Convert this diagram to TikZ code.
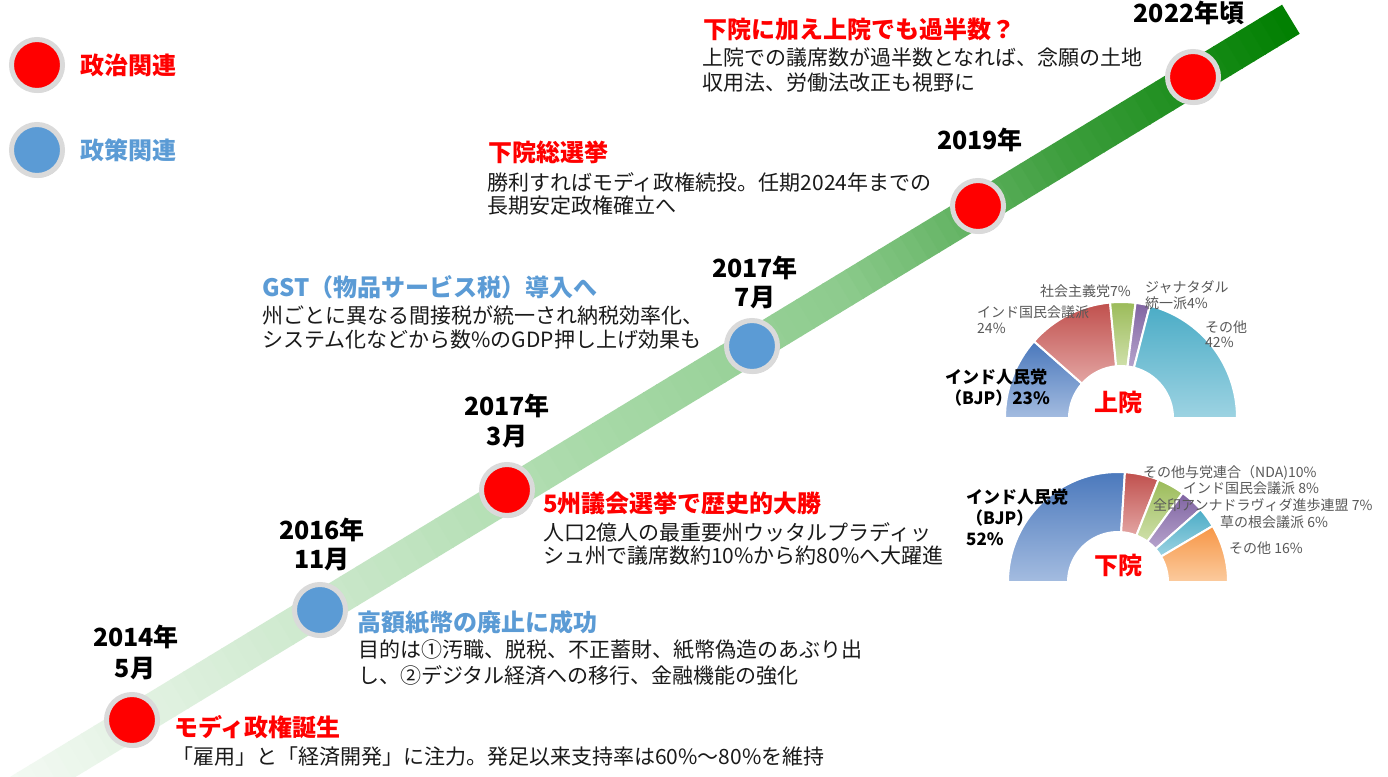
\documentclass[tikz,border=0pt]{standalone}
\usepackage{fontspec}
\setmainfont{Noto Sans CJK JP}
\usetikzlibrary{calc,shadows}
\definecolor{polred}{HTML}{FF0000}
\definecolor{polblue}{HTML}{5B9BD5}
\definecolor{ringgray}{HTML}{DADADA}
\definecolor{bodyc}{HTML}{1A1A1A}
\definecolor{lblc}{HTML}{595959}
\definecolor{bA}{HTML}{F4FAF4}
\definecolor{bB}{HTML}{D2EBD2}
\definecolor{bC}{HTML}{A9DAA9}
\definecolor{bD}{HTML}{8DCB8D}
\definecolor{bE}{HTML}{3F9F3F}
\definecolor{bF}{HTML}{007F00}
\definecolor{bluT}{HTML}{4A78BC}
\definecolor{bluB}{HTML}{A4BCE0}
\definecolor{redT}{HTML}{C0504D}
\definecolor{redB}{HTML}{E3A5A3}
\definecolor{grnT}{HTML}{9BBB59}
\definecolor{grnB}{HTML}{CFE0AA}
\definecolor{purT}{HTML}{8064A2}
\definecolor{purB}{HTML}{B6A3CC}
\definecolor{tealT}{HTML}{4BACC6}
\definecolor{tealB}{HTML}{9DD3E2}
\definecolor{orgT}{HTML}{F79646}
\definecolor{orgB}{HTML}{FBCB9E}
\newcommand\donutseg[6]{%
  \shadedraw[draw=white, line width=2pt, #6] ($(#1)+(#2:#4)$) arc[start angle=#2, end angle=#3, radius=#4]
    -- ($(#1)+(#3:#5)$) arc[start angle=#3, end angle=#2, radius=#5] -- cycle;}
\begin{document}
\begin{tikzpicture}[x=1pt,y=-1pt,
  evt/.style={circle, inner sep=0pt, minimum size=51pt, draw=ringgray, line width=5pt,
    circular drop shadow={shadow scale=1.04, shadow xshift=1pt, shadow yshift=-1.5pt}},
  evtred/.style={evt, fill=polred},
  evtblue/.style={evt, fill=polblue},
  datelbl/.style={font=\bfseries\fontsize{25}{30}\selectfont, text=black, anchor=center, inner sep=0pt},
  headred/.style={font=\bfseries\fontsize{24}{28}\selectfont, text=polred, anchor=west, inner sep=0pt},
  headblue/.style={font=\bfseries\fontsize{24}{28}\selectfont, text=polblue, anchor=west, inner sep=0pt},
  bodytxt/.style={font=\fontsize{21}{26}\selectfont, text=bodyc, anchor=west, inner sep=0pt},
  smalllbl/.style={font=\fontsize{14}{16}\selectfont, text=lblc, anchor=west, inner sep=0pt},
  bjplbl/.style={font=\bfseries\fontsize{17}{20}\selectfont, text=black, anchor=west, inner sep=0pt},
  housel/.style={font=\bfseries\fontsize{24}{28}\selectfont, text=polred, anchor=center, inner sep=0pt}
]
\useasboundingbox (0,0) rectangle (1388,776);
\fill[white] (0,0) rectangle (1388,776);
% ---- band ----
\begin{scope}
\clip (0,0) rectangle (1388,776);
\coordinate (S) at (13,795);
\foreach \ta/\tb/\ca/\cb in {0/0.2/bA/bB, 0.2/0.45/bB/bC, 0.45/0.65/bC/bD, 0.65/0.82/bD/bE, 0.82/1/bE/bF}{
  \foreach \j in {0,...,19}{
    \pgfmathsetmacro\sa{1495*(\ta+(\tb-\ta)*\j/20)}
    \pgfmathsetmacro\sb{min(1495*(\ta+(\tb-\ta)*(\j+1)/20)+1,1495)}
    \pgfmathsetmacro\pc{100*(\j+0.5)/20}
    \draw[line width=34pt, draw=\cb!\pc!\ca] ($(S)+(-31.26:\sa)$) -- ($(S)+(-31.26:\sb)$);
  }
}
\end{scope}
% ---- legend ----
\node[evtred] (legR) at (37,65) {};
\node[evtblue] (legB) at (37,150) {};
\node[font=\bfseries\fontsize{24}{28}\selectfont, text=polred, anchor=west, inner sep=0pt] (legRt) at (80,65) {政治関連};
\node[font=\bfseries\fontsize{24}{28}\selectfont, text=polblue, anchor=west, inner sep=0pt] (legBt) at (80,150) {政策関連};
% ---- event circles ----
\node[evtred] (e14) at (132,720) {};
\node[evtblue] (e16) at (320,610) {};
\node[evtred] (e173) at (507,490) {};
\node[evtblue] (e177) at (752,346) {};
\node[evtred] (e19) at (978,206) {};
\node[evtred] (e22) at (1193,77) {};
% ---- date labels ----
\node[datelbl] (d14a) at (136,637) {2014年};
\node[datelbl] (d14b) at (135,669) {5月};
\node[datelbl] (d16a) at (322,530) {2016年};
\node[datelbl] (d16b) at (322,560) {11月};
\node[datelbl] (d173a) at (507,406) {2017年};
\node[datelbl] (d173b) at (507,437) {3月};
\node[datelbl] (d177a) at (755,268) {2017年};
\node[datelbl] (d177b) at (755,298) {7月};
\node[datelbl] (d19) at (980,140) {2019年};
\node[datelbl] (d22) at (1189,13) {2022年頃};
% ---- text blocks ----
\node[headred] (h22) at (703,29) {下院に加え上院でも過半数？};
\node[bodytxt] (b22a) at (702,58) {上院での議席数が過半数となれば、念願の土地};
\node[bodytxt] (b22b) at (702,83) {収用法、労働法改正も視野に};
\node[headred] (h19) at (488,152) {下院総選挙};
\node[bodytxt] (b19a) at (487,182) {勝利すればモディ政権続投。任期2024年までの};
\node[bodytxt] (b19b) at (487,206) {長期安定政権確立へ};
\node[headblue] (hgst) at (262,287) {GST（物品サービス税）導入へ};
\node[bodytxt] (bgsta) at (262,315) {州ごとに異なる間接税が統一され納税効率化、};
\node[bodytxt] (bgstb) at (262,340) {システム化などから数\%のGDP押し上げ効果も};
\node[headred] (h173) at (543,503) {5州議会選挙で歴史的大勝};
\node[bodytxt] (b173a) at (543,532) {人口2億人の最重要州ウッタルプラディッ};
\node[bodytxt] (b173b) at (543,556) {シュ州で議席数約10\%から約80\%へ大躍進};
\node[headblue] (h16) at (357,623) {高額紙幣の廃止に成功};
\node[bodytxt] (b16a) at (358,650) {目的は①汚職、脱税、不正蓄財、紙幣偽造のあぶり出};
\node[bodytxt] (b16b) at (358,675) {し、②デジタル経済への移行、金融機能の強化};
\node[headred] (h14) at (174,727) {モディ政権誕生};
\node[bodytxt] (b14) at (172,757) {「雇用」と「経済開発」に注力。発足以来支持率は60\%～80\%を維持};
% ---- upper house chart ----
\coordinate (UC) at (1121,418);
\donutseg{UC}{-180}{-138.6}{116}{52}{top color=bluT, bottom color=bluB}
\donutseg{UC}{-138.6}{-95.4}{116}{52}{top color=redT, bottom color=redB}
\donutseg{UC}{-95.4}{-82.8}{116}{52}{top color=grnT, bottom color=grnB}
\donutseg{UC}{-82.8}{-75.6}{116}{52}{top color=purT, bottom color=purB}
\donutseg{UC}{-75.6}{0}{116}{52}{top color=tealT, bottom color=tealB}
\node[smalllbl] (u1) at (1040,291) {社会主義党7\%};
\node[smalllbl] (u2a) at (1145,287) {ジャナタダル};
\node[smalllbl] (u2b) at (1145,303) {統一派4\%};
\node[smalllbl] (u3a) at (977,312) {インド国民会議派};
\node[smalllbl] (u3b) at (977,328) {24\%};
\node[smalllbl] (u4a) at (1205,327) {その他};
\node[smalllbl] (u4b) at (1205,342) {42\%};
\node[bjplbl] (u5a) at (945,377) {インド人民党};
\node[bjplbl] (u5b) at (945,398) {（BJP）23\%};
\node[housel] (uh) at (1118,402) {上院};
% ---- lower house chart ----
\coordinate (LC) at (1118,582);
\donutseg{LC}{-180}{-86.4}{110}{50}{top color=bluT, bottom color=bluB}
\donutseg{LC}{-86.4}{-68.4}{110}{50}{top color=redT, bottom color=redB}
\donutseg{LC}{-68.4}{-54}{110}{50}{top color=grnT, bottom color=grnB}
\donutseg{LC}{-54}{-41.4}{110}{50}{top color=purT, bottom color=purB}
\donutseg{LC}{-41.4}{-30.6}{110}{50}{top color=tealT, bottom color=tealB}
\donutseg{LC}{-30.6}{0}{110}{50}{top color=orgT, bottom color=orgB}
\node[smalllbl] (l1) at (1143,473) {その他与党連合（NDA)10\%};
\node[smalllbl] (l2) at (1183,488) {インド国民会議派 8\%};
\node[smalllbl] (l3) at (1153,505) {全印アンナドラヴィダ進歩連盟 7\%};
\node[smalllbl] (l4) at (1220,522) {草の根会議派 6\%};
\node[smalllbl] (l5) at (1229,548) {その他 16\%};
\node[bjplbl] (l6a) at (966,497) {インド人民党};
\node[bjplbl] (l6b) at (966,518) {（BJP）};
\node[bjplbl] (l6c) at (966,539) {52\%};
\node[housel] (lh) at (1118,565) {下院};
\end{tikzpicture}
\end{document}
